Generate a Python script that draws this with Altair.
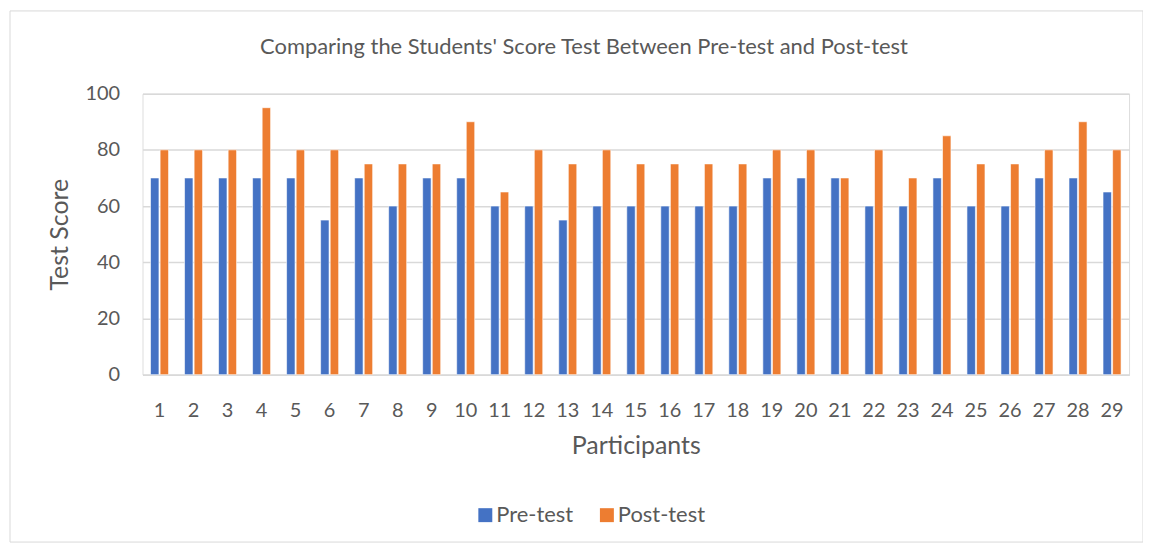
import altair as alt
import pandas as pd

participants = [str(i) for i in range(1, 30)]
pre_test = [70, 70, 70, 70, 70, 55, 70, 60, 70, 70, 60, 60, 55, 60, 60,
            60, 60, 60, 70, 70, 70, 60, 60, 70, 60, 60, 70, 70, 65]
post_test = [80, 80, 80, 95, 80, 80, 75, 75, 75, 90, 65, 80, 75, 80, 75,
             75, 75, 75, 80, 80, 70, 80, 70, 85, 75, 75, 80, 90, 80]
series = ["Pre-test", "Post-test"]
colors = ["#4472C4", "#ED7D31"]
y_ticks = [0, 20, 40, 60, 80, 100]
chart_title = "Comparing the Students' Score Test Between Pre-test and Post-test"

rows = []
for p, a, b in zip(participants, pre_test, post_test):
    rows.append({"Participant": p, "Test": series[0], "Score": a, "order": 0})
    rows.append({"Participant": p, "Test": series[1], "Score": b, "order": 1})
df = pd.DataFrame(rows)

FONT = "Lato"
TXT = "#595959"
W, H = 990, 282

bars = alt.Chart(df).mark_bar(stroke="white", strokeWidth=0.6).encode(
    x=alt.X("Participant:N", sort=participants,
            scale=alt.Scale(paddingInner=0.47, paddingOuter=0.235),
            axis=alt.Axis(title="Participants", labelAngle=0, ticks=False,
                          domainColor="#d9d9d9", domainWidth=1.5,
                          labelPadding=26, titlePadding=13,
                          labelFontSize=20, titleFontSize=25,
                          labelColor=TXT, titleColor=TXT,
                          labelFont=FONT, titleFont=FONT,
                          titleFontWeight="normal")),
    xOffset=alt.XOffset("Test:N", sort=series,
                        scale=alt.Scale(paddingInner=0.12)),
    y=alt.Y("Score:Q", scale=alt.Scale(domain=[0, 100], nice=False),
            axis=alt.Axis(title="Test Score", values=y_ticks, ticks=False,
                          domain=False, gridColor="#d9d9d9", gridWidth=1.5,
                          labelPadding=23, titlePadding=12,
                          labelFontSize=20, titleFontSize=25,
                          labelColor=TXT, titleColor=TXT,
                          labelFont=FONT, titleFont=FONT,
                          titleFontWeight="normal")),
    color=alt.Color("Test:N", sort=series,
                    scale=alt.Scale(domain=series, range=colors),
                    legend=alt.Legend(title=None, orient="none",
                                      direction="horizontal",
                                      legendX=333, legendY=412,
                                      symbolType="square", symbolSize=196,
                                      symbolStrokeWidth=0,
                                      labelFontSize=22, labelColor=TXT,
                                      labelFont=FONT, labelOffset=0,
                                      columnPadding=22)),
    order=alt.Order("order:Q"),
)

one_row = pd.DataFrame({"k": [0]})
frame = alt.Chart(one_row).mark_rect(fill="transparent", stroke="#d9d9d9",
                                     strokeWidth=1).encode(
    x=alt.value(-133), x2=alt.value(W + 14),
    y=alt.value(-83), y2=alt.value(H + 168),
)

title = alt.Chart(one_row).mark_text(
    fontSize=22, font=FONT, color=TXT, align="center", baseline="middle"
).encode(
    x=alt.value(443), y=alt.value(-47), text=alt.value(chart_title),
)

chart = alt.layer(frame, title, bars).properties(
    width=W, height=H,
    autosize=alt.AutoSizeParams(type="none"),
    padding={"left": 135, "top": 85, "right": 14, "bottom": 170},
).configure_view(stroke=None).configure(background="white")

chart.save("out.html", embed_options={"renderer": "svg", "actions": False})
